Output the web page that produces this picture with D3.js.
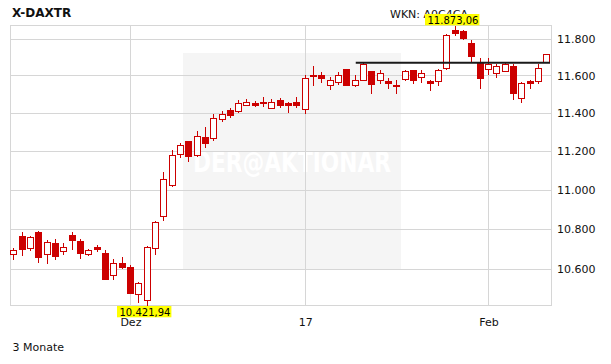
<!DOCTYPE html>
<html lang="de">
	<head>
		<meta charset="utf-8">
		<title>X-DAXTR</title>
		<script src="https://d3js.org/d3.v7.min.js"></script>
		<style type="text/css">
			body { margin: 0; background: #fff; }
			svg { display: block; font-family: "DejaVu Sans", Verdana, sans-serif; }
		</style>
	</head>
	<body>
		<script type="text/javascript">
			//Trading days (Xetra), 3 months
			let days = [
				"2016-11-11",
				"2016-11-14", "2016-11-15", "2016-11-16", "2016-11-17", "2016-11-18",
				"2016-11-21", "2016-11-22", "2016-11-23", "2016-11-24", "2016-11-25",
				"2016-11-28", "2016-11-29", "2016-11-30", "2016-12-01", "2016-12-02",
				"2016-12-05", "2016-12-06", "2016-12-07", "2016-12-08", "2016-12-09",
				"2016-12-12", "2016-12-13", "2016-12-14", "2016-12-15", "2016-12-16",
				"2016-12-19", "2016-12-20", "2016-12-21", "2016-12-22", "2016-12-23",
				"2016-12-27", "2016-12-28", "2016-12-29", "2016-12-30",
				"2017-01-02", "2017-01-03", "2017-01-04", "2017-01-05", "2017-01-06",
				"2017-01-09", "2017-01-10", "2017-01-11", "2017-01-12", "2017-01-13",
				"2017-01-16", "2017-01-17", "2017-01-18", "2017-01-19", "2017-01-20",
				"2017-01-23", "2017-01-24", "2017-01-25", "2017-01-26", "2017-01-27",
				"2017-01-30", "2017-01-31", "2017-02-01", "2017-02-02", "2017-02-03",
				"2017-02-06", "2017-02-07", "2017-02-08", "2017-02-09", "2017-02-10"
			];
			let opens = [
				10677, 10766, 10705, 10783, 10677, 10732, 10692, 10771, 10742, 10677,
				10709, 10682, 10569, 10628, 10610, 10477, 10450, 10707, 10865, 11022,
				11181, 11249, 11176, 11275, 11265, 11367, 11416, 11409, 11443, 11452,
				11459, 11427, 11470, 11452, 11457, 11422, 11605, 11600, 11550, 11564,
				11633, 11546, 11577, 11623, 11577, 11572, 11550, 11582, 11630, 11591,
				11568, 11569, 11640, 11846, 11841, 11776, 11672, 11635, 11615, 11624,
				11653, 11480, 11572, 11572, 11672
			];
			let highs = [
				10705, 10783, 10763, 10788, 10743, 10752, 10732, 10784, 10748, 10699,
				10718, 10694, 10649, 10659, 10619, 10538, 10714, 10842, 11091, 11207,
				11240, 11252, 11306, 11323, 11395, 11412, 11427, 11466, 11473, 11461,
				11487, 11471, 11480, 11457, 11482, 11600, 11651, 11618, 11591, 11618,
				11635, 11600, 11674, 11626, 11631, 11589, 11573, 11627, 11631, 11631,
				11573, 11637, 11827, 11873.06, 11846, 11791, 11695, 11695, 11664, 11667,
				11664, 11564, 11577, 11662, 11718
			];
			let lows = [
				10648, 10668, 10694, 10636, 10631, 10648, 10673, 10700, 10656, 10668,
				10689, 10550, 10553, 10606, 10482, 10437, 10421.94, 10677, 10845, 11018,
				11169, 11148, 11174, 11221, 11257, 11355, 11377, 11407, 11439, 11434,
				11435, 11426, 11432, 11403, 11430, 11399, 11550, 11565, 11529, 11553,
				11549, 11545, 11573, 11505, 11561, 11531, 11505, 11577, 11560, 11564,
				11520, 11546, 11637, 11822, 11796, 11672, 11534, 11607, 11593, 11623,
				11475, 11458, 11533, 11559, 11672
			];
			let closes = [
				10694, 10700, 10759, 10661, 10737, 10666, 10710, 10745, 10680, 10697,
				10700, 10553, 10628, 10611, 10485, 10531, 10710, 10833, 11052, 11176,
				11233, 11173, 11280, 11242, 11374, 11395, 11391, 11452, 11457, 11439,
				11452, 11459, 11442, 11439, 11443, 11588, 11595, 11588, 11577, 11605,
				11550, 11577, 11660, 11555, 11615, 11561, 11541, 11623, 11575, 11614,
				11561, 11631, 11823, 11832, 11803, 11705, 11587, 11664, 11652, 11664,
				11506, 11561, 11561, 11641, 11718
			];

			//Axis ticks
			let yTicks = [10600, 10800, 11000, 11200, 11400, 11600, 11800];
			let xTickDays = ["2016-12-01", "2017-01-02", "2017-02-01"];
			let xTickLabels = ["Dez", "17", "Feb"];

			//Horizontal reference line
			let refLevel = 11669;
			let refFrom = "2017-01-10";

			//Layout
			let w = 611;
			let h = 364;
			let plotLeft = 10;
			let plotRight = 551;
			let plotTop = 25.5;
			let plotBottom = 305.5;
			let red = "#cc0000";
			let gridColor = "#d6d6d6";

			let candles = days.map(function(d, i) {
				return { day: d, o: opens[i], h: highs[i], l: lows[i], c: closes[i] };
			});

			let de = d3.formatLocale({ decimal: ",", thousands: ".", grouping: [3], currency: ["", " €"] });
			let fmtAxis = de.format(",.0f");
			let fmtPrice = de.format(",.2f");

			//Scales
			let xScale = d3.scalePoint()
				.domain(days)
				.range([plotLeft + 3.3, plotRight - 4.7]);
			let yScale = d3.scaleLog()
				.domain([d3.min(lows), d3.max(highs)])
				.range([plotBottom, plotTop]);

			let px = function(d) { return Math.round(xScale(d)); };
			let py = function(v) { return Math.round(yScale(v)) + 0.5; };

			let svg = d3.select("body")
				.append("svg")
				.attr("width", w)
				.attr("height", h);

			svg.append("rect")
				.attr("width", w)
				.attr("height", h)
				.attr("fill", "#fff");

			//Watermark
			svg.append("rect")
				.attr("x", 183)
				.attr("y", 53)
				.attr("width", 218)
				.attr("height", 216)
				.attr("fill", "#f5f5f5");
			svg.append("text")
				.attr("x", 292)
				.attr("y", 172)
				.attr("text-anchor", "middle")
				.attr("textLength", 198)
				.attr("lengthAdjust", "spacingAndGlyphs")
				.attr("font-size", 29)
				.attr("font-weight", "bold")
				.attr("fill", "#ffffff")
				.text("DER@AKTIONAR");

			//Grid
			let grid = svg.append("g").attr("stroke", gridColor).attr("stroke-width", 1);
			grid.selectAll("line.h")
				.data(yTicks)
				.enter()
				.append("line")
				.attr("class", "h")
				.attr("x1", plotLeft)
				.attr("x2", plotRight)
				.attr("y1", function(d) { return py(d); })
				.attr("y2", function(d) { return py(d); });
			grid.selectAll("line.v")
				.data(xTickDays)
				.enter()
				.append("line")
				.attr("class", "v")
				.attr("x1", function(d) { return px(d) + 0.5; })
				.attr("x2", function(d) { return px(d) + 0.5; })
				.attr("y1", plotTop)
				.attr("y2", plotBottom);
			svg.append("rect")
				.attr("x", plotLeft + 0.5)
				.attr("y", plotTop)
				.attr("width", plotRight - plotLeft)
				.attr("height", plotBottom - plotTop)
				.attr("fill", "none")
				.attr("stroke", gridColor);

			//Axes
			let yAxis = d3.axisRight(yScale)
				.tickValues(yTicks)
				.tickSize(0)
				.tickPadding(6)
				.tickFormat(fmtAxis);
			let xAxis = d3.axisBottom(xScale)
				.tickValues(xTickDays)
				.tickSize(0)
				.tickPadding(12.5)
				.tickFormat(function(d, i) { return xTickLabels[i]; });

			svg.append("g")
				.attr("class", "y axis")
				.attr("transform", "translate(" + plotRight + ",0)")
				.call(yAxis);
			svg.append("g")
				.attr("class", "x axis")
				.attr("transform", "translate(0.5," + plotBottom + ")")
				.call(xAxis);
			svg.selectAll(".axis .domain").remove();
			svg.selectAll(".axis text")
				.attr("font-family", "DejaVu Sans, Verdana, sans-serif")
				.attr("font-size", 11)
				.attr("fill", "#111");

			//Candles
			let cg = svg.append("g").attr("id", "candles");
			let candle = cg.selectAll("g")
				.data(candles)
				.enter()
				.append("g");
			candle.append("line")
				.attr("x1", function(d) { return px(d.day) + 0.5; })
				.attr("x2", function(d) { return px(d.day) + 0.5; })
				.attr("y1", function(d) { return py(d.h) - 0.5; })
				.attr("y2", function(d) { return py(d.l) + 0.5; })
				.attr("stroke", red)
				.attr("stroke-width", 1);
			candle.append("rect")
				.attr("x", function(d) { return px(d.day) - 2.5; })
				.attr("y", function(d) { return py(Math.max(d.o, d.c)); })
				.attr("width", 6)
				.attr("height", function(d) {
					return Math.max(1, py(Math.min(d.o, d.c)) - py(Math.max(d.o, d.c)));
				})
				.attr("fill", function(d) { return d.c >= d.o ? "#fff" : red; })
				.attr("stroke", red)
				.attr("stroke-width", 1);

			//Reference line
			svg.append("line")
				.attr("x1", xScale(refFrom) + 1)
				.attr("x2", plotRight - 1)
				.attr("y1", yScale(refLevel))
				.attr("y2", yScale(refLevel))
				.attr("stroke", "#1a1a1a")
				.attr("stroke-width", 2);

			//Title and notes
			svg.append("text")
				.attr("x", 12)
				.attr("y", 16.7)
				.attr("font-size", 12)
				.attr("font-weight", "bold")
				.attr("fill", "#111")
				.text("X-DAXTR");
			svg.append("text")
				.attr("x", 12.5)
				.attr("y", 350.7)
				.attr("font-size", 11)
				.attr("fill", "#111")
				.text("3 Monate");
			svg.append("text")
				.attr("x", 390)
				.attr("y", 17.5)
				.attr("font-size", 11)
				.attr("fill", "#111")
				.text("WKN: A0C4CA");

			//Min / max labels
			let iMin = d3.minIndex(lows);
			let iMax = d3.maxIndex(highs);
			let tags = [
				{ day: days[iMin], value: lows[iMin], top: plotBottom + 0.5 },
				{ day: days[iMax], value: highs[iMax], top: plotTop - 11.5 }
			];
			tags.forEach(function(t) {
				let g = svg.append("g");
				let bg = g.append("rect").attr("fill", "#ffff00");
				let txt = g.append("text")
					.attr("x", px(t.day) - 27.5)
					.attr("y", t.top + 9.5)
					.attr("font-size", 10)
					.attr("fill", "#000")
					.text(fmtPrice(t.value));
				let tw = txt.node().getComputedTextLength();
				bg.attr("x", px(t.day) - 30)
					.attr("y", t.top)
					.attr("width", tw + 3.5)
					.attr("height", 11.3);
			});
		</script>
	</body>
</html>
